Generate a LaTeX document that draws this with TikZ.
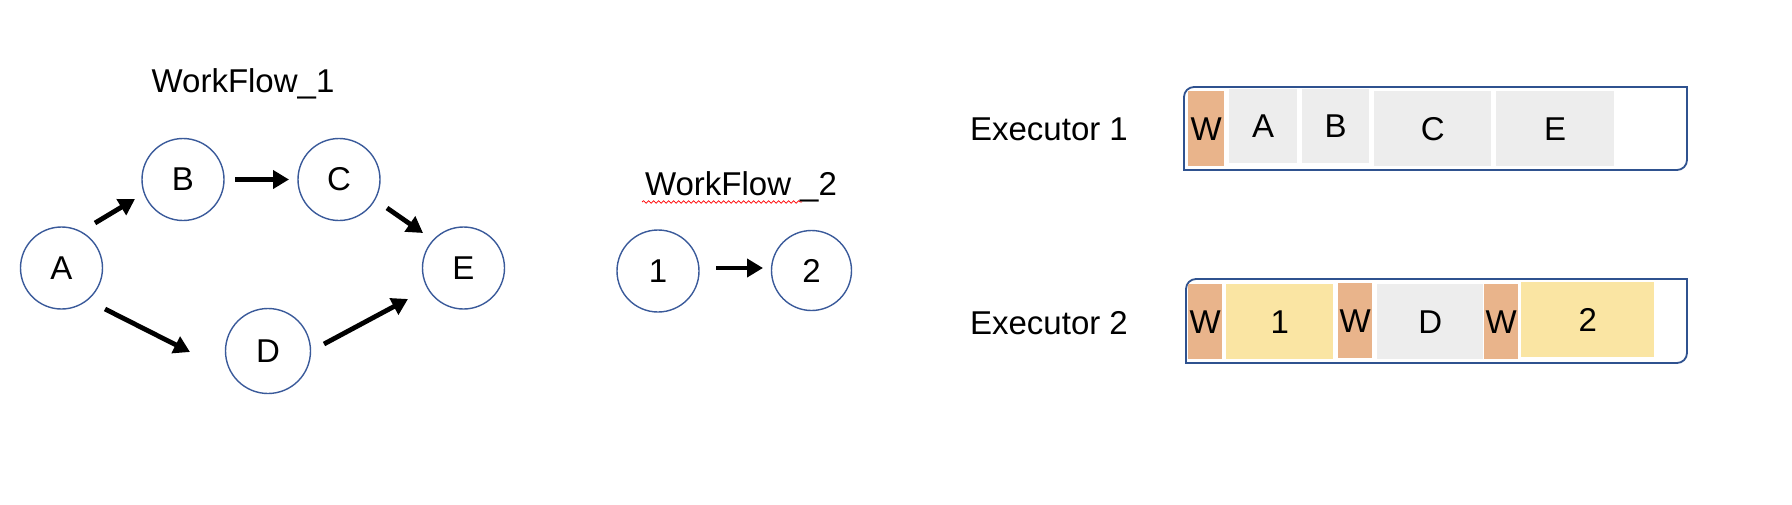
\documentclass[tikz,border=0pt]{standalone}
\usepackage{fontspec}
\setmainfont{Liberation Sans}
\usetikzlibrary{arrows.meta,decorations.pathmorphing}
\definecolor{circblue}{HTML}{3A5A9A}
\definecolor{boxblue}{HTML}{2F528F}
\definecolor{wfill}{HTML}{E9B48B}
\definecolor{gfill}{HTML}{EDEDED}
\definecolor{yfill}{HTML}{FAE5A3}
\tikzset{
  big/.style={font=\fontsize{33}{40}\selectfont},
  circnode/.style={big, circle, draw=circblue, line width=1.4pt, minimum size=82pt, inner sep=0pt},
  arr/.style={line width=4.8pt, -{Triangle[length=16pt,width=18pt]}},
  cell/.style={big, inner sep=0pt, anchor=north west},
  frame/.style={draw=boxblue, line width=1.8pt}
}
\begin{document}
\begin{tikzpicture}[x=1pt,y=-1pt]
\useasboundingbox (0,0) rectangle (1792,504);
% Workflow 1
\node[big] (t1) at (243,84) {WorkFlow\_1};
\node[circnode] (A) at (61.5,268) {A};
\node[circnode] (B) at (183,179.5) {B};
\node[circnode] (C) at (339,179.5) {C};
\node[circnode] (E) at (463.5,268) {E};
\node[circnode, minimum size=85pt] (D) at (268,351) {D};
\draw[arr] ([shift={(33.5,-45)}]A.center) -- ([shift={(-48,19.5)}]B.center);
\draw[arr] ([shift={(52,0)}]B.center) -- ([shift={(-50,0)}]C.center);
\draw[arr] ([shift={(48,28.5)}]C.center) -- ([shift={(-40.5,-35)}]E.center);
\draw[arr] ([shift={(43.5,41)}]A.center) -- ([shift={(-78,1)}]D.center);
\draw[arr] ([shift={(56,-7)}]D.center) -- ([shift={(-55.5,31)}]E.center);
% Workflow 2
\node[big] (t2) at (741,187) {WorkFlow \_2};
\draw[red, line width=0.7pt, decorate, decoration={snake, segment length=5pt, amplitude=1.3pt}] (642,202) -- (802,202);
\node[circnode] (n1) at (658,271) {1};
\node[circnode, minimum size=80pt] (n2) at (811.5,270.5) {2};
\draw[arr] ([shift={(58,-3)}]n1.center) -- ([shift={(-48.5,-2.5)}]n2.center);
% Executor 1
\node[big] (ex1) at (1049,129) {Executor 1};
\draw[frame] (1184,170) -- (1184,97) arc[start angle=180, end angle=270, radius=10] -- (1687,87) -- (1687,160) arc[start angle=0, end angle=90, radius=10] -- cycle;
\node[cell, fill=wfill, minimum width=36pt, minimum height=75pt] (e1w) at (1188,91) {W};
\node[cell, fill=gfill, minimum width=68pt, minimum height=74pt] (e1a) at (1229,89) {A};
\node[cell, fill=gfill, minimum width=67pt, minimum height=74pt] (e1b) at (1302,89) {B};
\node[cell, fill=gfill, minimum width=117pt, minimum height=75pt] (e1c) at (1374,91) {C};
\node[cell, fill=gfill, minimum width=118pt, minimum height=75pt] (e1e) at (1496,91) {E};
% Executor 2
\node[big] (ex2) at (1049,323) {Executor 2};
\draw[frame] (1186,363) -- (1186,289) arc[start angle=180, end angle=270, radius=10] -- (1687,279) -- (1687,353) arc[start angle=0, end angle=90, radius=10] -- cycle;
\node[cell, fill=wfill, minimum width=34pt, minimum height=75pt] (e2w1) at (1188,284) {W};
\node[cell, fill=yfill, minimum width=107pt, minimum height=75pt] (e2one) at (1226,284) {1};
\node[cell, fill=wfill, minimum width=34pt, minimum height=75pt] (e2w2) at (1338,283) {W};
\node[cell, fill=gfill, minimum width=106pt, minimum height=75pt] (e2d) at (1377,284) {D};
\node[cell, fill=wfill, minimum width=34pt, minimum height=75pt] (e2w3) at (1484,284) {W};
\node[cell, fill=yfill, minimum width=133pt, minimum height=75pt] (e2two) at (1521,282) {2};
\end{tikzpicture}
\end{document}
